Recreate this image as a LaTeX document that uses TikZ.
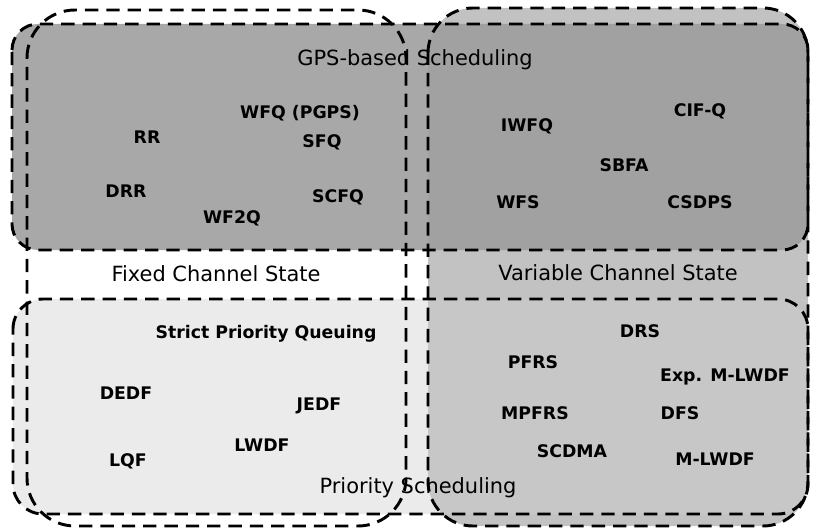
\documentclass[tikz,border=0pt]{standalone}
\usepackage{fontspec}
\setmainfont{DejaVu Sans}

\begin{document}
\begin{tikzpicture}[x=0.75pt,y=0.75pt,yscale=-1,xscale=1,
  boxline/.style={line width=2.2pt,dash pattern={on 10pt off 6pt}},
  algo/.style={inner sep=0.75pt,font=\fontsize{13}{15}\selectfont\bfseries},
  title/.style={inner sep=0.75pt,font=\fontsize{15.7}{18}\selectfont}]
\path (0,0) rectangle (815,528);

%Shape: Rounded Rect (variable channel state, fill)
\fill  [black!24] (428,53) .. controls (428,28.15) and (448.15,8) .. (473,8) -- (763,8) .. controls (787.85,8) and (808,28.15) .. (808,53) -- (808,481) .. controls (808,505.85) and (787.85,526) .. (763,526) -- (473,526) .. controls (448.15,526) and (428,505.85) .. (428,481) -- cycle ;
%Shape: Rounded Rect (GPS-based scheduling, fill)
\fill  [black!38,fill opacity=0.9] (12,50) .. controls (12,35.64) and (23.64,24) .. (38,24) -- (782,24) .. controls (796.36,24) and (808,35.64) .. (808,50) -- (808,224) .. controls (808,238.36) and (796.36,250) .. (782,250) -- (38,250) .. controls (23.64,250) and (12,238.36) .. (12,224) -- cycle ;
%Shape: Rounded Rect (priority scheduling, fill)
\fill  [black!19,fill opacity=0.42] (13,329) .. controls (13,312.43) and (26.43,299) .. (43,299) -- (778,299) .. controls (794.57,299) and (808,312.43) .. (808,329) -- (808,484) .. controls (808,500.57) and (794.57,514) .. (778,514) -- (43,514) .. controls (26.43,514) and (13,500.57) .. (13,484) -- cycle ;

%Shape: Rounded Rect (fixed channel state)
\draw  [boxline] (27,58) .. controls (27,31.49) and (48.49,10) .. (75,10) -- (358,10) .. controls (384.51,10) and (406,31.49) .. (406,58) -- (406,478) .. controls (406,504.51) and (384.51,526) .. (358,526) -- (75,526) .. controls (48.49,526) and (27,504.51) .. (27,478) -- cycle ;
%Shape: Rounded Rect (variable channel state)
\draw  [boxline] (428,53) .. controls (428,28.15) and (448.15,8) .. (473,8) -- (763,8) .. controls (787.85,8) and (808,28.15) .. (808,53) -- (808,481) .. controls (808,505.85) and (787.85,526) .. (763,526) -- (473,526) .. controls (448.15,526) and (428,505.85) .. (428,481) -- cycle ;
%Shape: Rounded Rect (GPS-based scheduling)
\draw  [boxline] (12,50) .. controls (12,35.64) and (23.64,24) .. (38,24) -- (782,24) .. controls (796.36,24) and (808,35.64) .. (808,50) -- (808,224) .. controls (808,238.36) and (796.36,250) .. (782,250) -- (38,250) .. controls (23.64,250) and (12,238.36) .. (12,224) -- cycle ;
%Shape: Rounded Rect (priority scheduling)
\draw  [boxline] (13,329) .. controls (13,312.43) and (26.43,299) .. (43,299) -- (778,299) .. controls (794.57,299) and (808,312.43) .. (808,329) -- (808,484) .. controls (808,500.57) and (794.57,514) .. (778,514) -- (43,514) .. controls (26.43,514) and (13,500.57) .. (13,484) -- cycle ;

% Text Node
\draw (415,60) node [title] (gps) {GPS-based Scheduling};
% Text Node
\draw (216,274) node [title] (fixed) {Fixed Channel State};
% Text Node
\draw (618,273) node [title] (variable) {Variable Channel State};
% Text Node
\draw (418,488) node [title] (prio) {Priority Scheduling};

% Text Node
\draw (300,113) node [algo] (wfq) {WFQ (PGPS)};
% Text Node
\draw (147,137) node [algo] (rr) {RR};
% Text Node
\draw (322,142) node [algo] (sfq) {SFQ};
% Text Node
\draw (126,191) node [algo] (drr) {DRR};
% Text Node
\draw (338,197) node [algo] (scfq) {SCFQ};
% Text Node
\draw (232,218) node [algo] (wf2q) {WF2Q};
% Text Node
\draw (527,126) node [algo] (iwfq) {IWFQ};
% Text Node
\draw (700,111) node [algo] (cifq) {CIF-Q};
% Text Node
\draw (624,165) node [algo] (sbfa) {SBFA};
% Text Node
\draw (518,202) node [algo] (wfs) {WFS};
% Text Node
\draw (700,202) node [algo] (csdps) {CSDPS};

% Text Node
\draw (266,334) node [algo] (spq) {Strict Priority Queuing};
% Text Node
\draw (126,393) node [algo] (dedf) {DEDF};
% Text Node
\draw (319,406) node [algo] (jedf) {JEDF};
% Text Node
\draw (262,445) node [algo] (lwdf) {LWDF};
% Text Node
\draw (128,461) node [algo] (lqf) {LQF};
% Text Node
\draw (640,331) node [algo] (drs) {DRS};
% Text Node
\draw (533,362) node [algo] (pfrs) {PFRS};
% Text Node
\draw (725,377) node [algo] (expmlwdf) {Exp. M-LWDF};
% Text Node
\draw (535,413) node [algo] (mpfrs) {MPFRS};
% Text Node
\draw (680,413) node [algo] (dfs) {DFS};
% Text Node
\draw (572,451) node [algo] (scdma) {SCDMA};
% Text Node
\draw (715,459) node [algo] (mlwdf) {M-LWDF};

\end{tikzpicture}
\end{document}
